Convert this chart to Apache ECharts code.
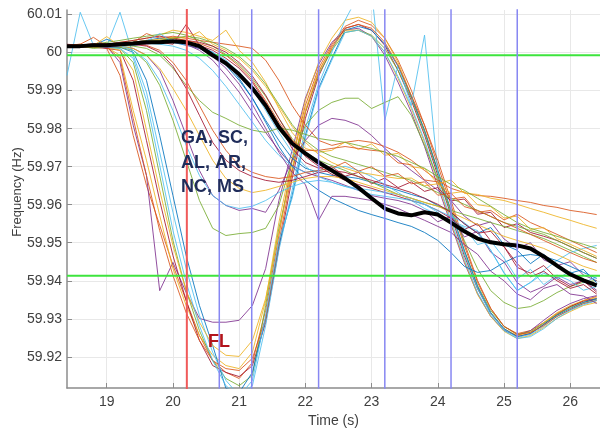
<!DOCTYPE html>
<html><head><meta charset="utf-8">
<script src="https://cdn.jsdelivr.net/npm/echarts@6/dist/echarts.min.js"></script>
<style>html,body{margin:0;padding:0;background:#fff}#c{width:600px;height:434px}</style>
</head><body><div id="c"></div>
<script>
// sample times (s)
const timeS = [18.4,18.6,18.8,19.0,19.2,19.4,19.6,19.8,20.0,20.2,20.4,20.6,20.8,21.0,21.2,21.4,21.6,21.8,22.0,22.2,22.4,22.6,22.8,23.0,23.2,23.4,23.6,23.8,24.0,24.2,24.4,24.6,24.8,25.0,25.2,25.4,25.6,25.8,26.0,26.2,26.4];

// frequency deviation from 60 Hz, in mHz, one value per sample time
// FL group (deep early dip, then swing)
const fl1 = [1.4,1.7,1.9,1.1,-6.0,-21.8,-34.9,-45.4,-55.9,-65.2,-74.4,-81.0,-84.1,-85.7,-81.5,-67.8,-48.1,-28.3,-13.9,-4.1,2.2,6.9,8.5,7.2,3.8,-2.0,-9.9,-19.1,-29.6,-40.1,-50.7,-60.4,-67.3,-72.0,-73.9,-73.1,-71.0,-68.6,-66.8,-65.2,-64.1];
const fl2 = [1.7,1.4,2.2,1.7,-2.6,-19.1,-32.3,-62.6,-55.2,-63.1,-69.9,-70.9,-70.9,-70.4,-66.5,-56.8,-38.9,-25.7,-12.0,-3.1,2.7,5.9,6.4,4.3,-0.7,-7.8,-15.7,-24.7,-35.2,-45.2,-55.2,-63.4,-69.4,-73.1,-74.4,-73.1,-70.4,-67.8,-66.0,-64.7,-63.9];
const fl3 = [1.4,1.7,1.7,1.4,-0.7,-15.2,-28.3,-42.8,-56.8,-66.5,-74.4,-79.6,-82.3,-83.1,-78.8,-65.2,-44.7,-27.8,-12.6,-2.6,3.8,8.5,9.3,8.0,3.8,-2.6,-11.3,-20.4,-31.0,-42.0,-52.6,-62.0,-68.4,-72.6,-74.4,-73.6,-71.0,-68.4,-66.5,-65.2,-64.4];
const fl4 = [1.7,1.4,1.4,1.1,0.6,-7.3,-23.1,-38.9,-53.4,-65.2,-75.7,-82.3,-84.1,-85.2,-82.3,-71.0,-51.5,-33.1,-17.3,-6.2,1.1,6.4,7.4,5.9,1.9,-4.7,-12.6,-21.7,-32.3,-42.8,-53.4,-62.0,-68.6,-72.8,-74.7,-73.9,-71.5,-68.9,-66.8,-65.4,-64.7];
const fl5 = [1.4,1.7,1.1,1.4,1.1,-2.6,-15.2,-32.3,-49.4,-62.6,-73.1,-81.0,-85.7,-87.6,-84.9,-66.5,-46.2,-31.0,-15.7,-5.7,0.6,5.3,5.9,4.6,1.1,-4.7,-12.0,-21.0,-31.5,-42.0,-52.0,-61.2,-67.8,-72.0,-74.1,-73.4,-71.2,-68.9,-67.0,-65.7,-64.9];
const fl6 = [1.7,1.4,1.7,1.4,1.4,0.1,-7.3,-21.8,-37.6,-53.4,-66.5,-77.0,-88.3,-89.4,-84.1,-69.9,-50.7,-37.6,-21.8,-9.4,-1.5,5.9,6.9,5.9,2.2,-3.6,-11.6,-20.4,-31.0,-41.5,-52.0,-61.5,-68.4,-72.6,-74.7,-73.9,-71.5,-69.1,-67.3,-65.7,-64.7];
const fl7 = [-6.0,10.6,1.9,1.7,10.6,-0.7,-10.4,-26.2,-42.0,-56.8,-69.1,-78.8,-86.2,-90.2,-87.6,-71.8,-52.0,-36.2,-19.9,-8.3,0.1,8.5,15.1,16.4,-17.8,-3.3,-13.9,4.6,-31.5,-42.0,-52.6,-62.0,-68.6,-72.8,-74.9,-74.1,-72.0,-69.4,-67.6,-66.0,-65.2];
const fl8 = [1.4,1.4,1.7,1.4,-1.5,-17.3,-32.3,-46.8,-58.6,-68.4,-75.7,-81.0,-83.1,-83.6,-80.4,-69.9,-49.9,-31.5,-15.7,-5.2,1.7,6.4,7.4,6.4,2.7,-3.3,-11.3,-19.1,-28.3,-38.9,-49.9,-59.9,-67.3,-72.0,-74.1,-73.6,-71.8,-69.4,-67.6,-66.0,-65.2];
const fl9 = [1.7,1.4,1.4,1.4,0.6,-4.7,-20.4,-36.2,-50.7,-62.6,-70.9,-77.0,-79.6,-79.9,-75.7,-64.7,-47.3,-30.4,-15.2,-4.7,1.1,5.9,5.9,4.3,0.1,-6.8,-14.7,-23.6,-34.1,-44.7,-54.7,-63.6,-69.4,-73.3,-75.2,-74.4,-72.3,-69.9,-68.1,-66.5,-65.7];
const fl10 = [1.4,1.7,1.7,1.4,1.1,-1.5,-12.6,-29.6,-46.8,-60.4,-71.8,-81.0,-87.6,-90.4,-86.2,-69.1,-49.4,-38.3,-22.6,-9.9,-2.0,5.3,5.9,4.3,0.1,-6.3,-14.2,-23.1,-33.6,-44.1,-54.2,-63.1,-69.1,-73.1,-75.2,-74.7,-72.6,-69.9,-67.8,-66.3,-65.2];
// intermediate dips
const mid1 = [1.4,1.7,1.4,1.7,1.4,0.6,-2.6,-8.6,-17.8,-28.3,-38.9,-46.2,-48.1,-47.6,-47.3,-46.2,-40.2,-28.3,-19.1,-15.2,-13.1,-12.0,-12.0,-14.7,-13.1,-11.6,-16.5,-24.4,-33.1,-41.5,-49.4,-56.8,-62.6,-65.7,-67.3,-66.8,-65.2,-63.1,-61.5,-60.4,-59.9];
const mid2 = [1.7,1.4,1.7,1.4,1.7,1.1,-0.7,-4.7,-12.6,-21.8,-31.0,-37.6,-40.2,-41.5,-41.0,-42.0,-36.2,-28.3,-23.1,-19.1,-17.3,-17.8,-19.1,-21.8,-25.2,-28.3,-31.0,-33.6,-36.2,-38.9,-43.0,-45.5,-44.5,-49.0,-51.5,-50.0,-54.5,-56.0,-55.0,-58.5,-60.0];
// GA / SC / AL / AR / NC / MS group (slow decline)
const ga1 = [1.9,2.2,1.7,2.4,2.2,2.7,5.0,3.8,4.3,3.8,3.2,2.7,2.2,1.7,1.1,-2.0,-7.3,-13.9,-19.1,-23.1,-24.4,-23.6,-23.1,-23.6,-24.7,-26.2,-28.3,-31.0,-33.6,-35.7,-36.8,-37.6,-37.8,-38.3,-38.9,-39.4,-40.2,-40.7,-41.5,-42.0,-42.6];
const ga2 = [1.7,1.9,2.2,1.9,2.7,3.2,3.8,4.6,5.9,5.3,4.3,3.2,5.9,0.6,-2.6,-7.8,-14.7,-21.0,-25.2,-26.2,-25.7,-23.5,-25.5,-24.0,-27.0,-26.5,-30.0,-30.5,-34.5,-33.5,-37.0,-37.3,-38.3,-38.9,-39.9,-41.0,-42.0,-43.1,-44.1,-45.2,-46.2];
const ga3 = [1.4,1.7,1.9,3.5,2.2,2.4,2.7,3.2,2.7,1.9,1.1,-0.7,-3.3,-7.3,-12.0,-17.8,-23.1,-27.8,-30.4,-31.5,-32.3,-32.6,-33.1,-34.1,-35.2,-36.2,-37.3,-38.3,-40.2,-42.0,-45.0,-47.5,-46.0,-50.5,-52.0,-55.5,-53.0,-56.5,-58.0,-57.0,-60.5];
const ga4 = [1.7,1.9,2.2,2.4,2.2,2.7,3.2,2.7,2.2,7.4,1.9,0.6,-1.5,-4.1,-7.8,-13.1,-19.1,-25.2,-28.9,-30.4,-30.0,-32.5,-31.5,-34.5,-33.0,-35.5,-34.0,-36.5,-35.5,-39.0,-38.5,-42.5,-42.0,-46.0,-45.0,-47.3,-48.3,-49.4,-51.0,-52.6,-54.1];
const ga5 = [1.4,1.7,1.9,2.2,2.4,1.9,2.2,2.7,3.2,2.2,0.6,-2.0,-6.0,-10.4,-15.7,-21.0,-25.7,-29.7,-31.5,-32.6,-33.6,-34.9,-36.2,-37.6,-38.3,-38.9,-39.9,-41.5,-44.5,-43.0,-48.5,-47.0,-52.5,-55.0,-60.5,-63.0,-61.5,-59.0,-61.0,-60.0,-62.5];
const ga6 = [1.9,1.7,2.2,2.7,3.2,3.8,4.3,4.8,5.3,4.6,3.2,1.7,-0.5,-3.1,-6.8,-11.5,-17.3,-22.6,-26.2,-28.3,-29.7,-31.0,-32.6,-34.1,-35.7,-37.3,-38.3,-39.4,-40.4,-41.5,-42.6,-43.6,-44.7,-45.7,-46.8,-47.8,-48.9,-50.4,-52.0,-53.6,-55.2];
const ga7 = [1.7,1.4,1.9,2.2,1.7,1.9,2.4,2.2,1.7,0.6,-1.5,-4.7,-8.9,-13.6,-18.3,-23.1,-27.0,-29.9,-31.5,-31.0,-30.4,-29.9,-31.0,-32.6,-34.7,-36.8,-38.9,-41.0,-42.6,-44.1,-45.7,-46.8,-52.0,-57.8,-62.6,-60.4,-57.3,-54.7,-52.6,-51.5,-50.7];
const ga8 = [2.2,1.9,2.4,2.2,2.7,3.2,3.8,4.3,3.8,3.2,2.7,1.7,0.1,-2.6,-6.2,-11.2,-17.3,-23.1,-27.3,-29.9,-32.0,-33.6,-34.7,-35.7,-36.8,-37.8,-38.9,-39.9,-41.5,-43.6,-46.5,-45.0,-49.5,-51.0,-56.5,-58.0,-56.0,-59.5,-61.5,-60.0,-63.0];
const ga9 = [1.9,2.2,4.0,1.7,2.2,2.4,3.0,3.2,3.8,3.2,2.4,1.1,-0.7,-3.6,-7.3,-12.6,-18.3,-23.1,-25.7,-25.7,-25.2,-24.7,-25.2,-25.7,-26.0,-29.0,-29.5,-33.5,-34.0,-38.5,-38.0,-42.0,-41.5,-44.0,-42.5,-44.7,-46.2,-47.8,-49.4,-51.0,-52.6];
const ga10 = [1.7,1.9,1.7,1.9,2.2,2.7,3.2,3.8,3.2,2.7,1.7,0.1,-2.6,-6.8,-12.0,-18.3,-24.7,-29.9,-33.6,-36.2,-38.3,-39.9,-41.5,-42.6,-43.6,-44.7,-45.7,-47.3,-49.4,-52.6,-56.2,-57.8,-57.3,-55.2,-53.6,-53.1,-53.6,-54.7,-56.2,-57.8,-59.4];
const ga11 = [1.4,1.7,1.9,2.2,2.4,2.7,3.2,3.5,4.0,3.8,5.5,2.2,0.6,-1.5,-4.7,-8.9,-14.1,-19.4,-23.6,-26.8,-28.9,-30.4,-31.5,-32.0,-32.6,-33.1,-33.0,-35.0,-34.5,-37.0,-36.5,-40.0,-40.5,-43.5,-43.0,-46.5,-46.0,-48.9,-50.4,-52.0,-53.6];
const ga12 = [1.7,1.7,2.2,1.9,2.2,2.4,2.7,3.0,2.7,2.2,1.1,-1.0,-4.1,-8.3,-13.6,-19.9,-26.2,-31.5,-34.7,-44.1,-37.8,-37.8,-38.3,-38.9,-39.9,-41.0,-42.6,-44.1,-45.7,-47.3,-50.5,-53.0,-57.5,-60.0,-63.5,-65.0,-62.0,-61.0,-63.5,-64.0,-66.0];
const ga13 = [1.4,1.9,2.2,1.9,2.4,2.7,3.0,3.2,3.8,4.3,3.8,2.7,1.1,-1.0,-4.1,-8.3,-13.6,-18.9,-23.1,-25.7,-27.3,-28.3,-29.4,-30.4,-31.5,-32.6,-33.6,-35.2,-36.8,-38.3,-39.9,-41.5,-43.1,-44.7,-45.7,-46.8,-47.8,-49.4,-51.0,-52.6,-54.1];
const ga14 = [1.7,1.9,2.2,1.7,1.9,2.4,3.0,5.0,2.7,2.2,1.4,0.1,-2.0,-5.2,-9.4,-15.2,-21.0,-26.2,-29.9,-32.6,-34.1,-35.2,-35.7,-36.2,-36.8,-37.3,-38.3,-39.9,-42.0,-44.7,-46.0,-50.5,-49.5,-54.0,-59.5,-57.0,-61.0,-58.5,-60.0,-62.5,-61.5];
// early moderate decline, then plateau
const ea1 = [1.7,1.9,2.2,1.9,2.2,2.4,1.9,0.6,-2.6,-7.3,-13.9,-20.4,-25.7,-29.7,-31.5,-32.6,-33.1,-32.6,-31.5,-31.0,-30.4,-28.8,-31.2,-30.0,-32.5,-31.8,-34.5,-34.0,-37.5,-37.0,-40.5,-41.5,-43.1,-44.7,-46.2,-47.8,-49.4,-51.0,-52.6,-54.1,-55.2];
const ea2 = [1.4,1.7,1.9,4.2,1.7,1.1,-0.7,-4.1,-9.4,-15.2,-21.8,-28.3,-33.1,-35.7,-36.8,-36.2,-35.2,-34.1,-33.1,-32.6,-32.6,-33.1,-34.1,-35.2,-36.2,-37.3,-38.3,-39.4,-40.4,-42.0,-43.6,-45.2,-46.8,-48.3,-49.4,-50.4,-51.5,-53.1,-54.7,-56.2,-57.3];
const ea3 = [1.7,1.9,1.7,2.2,1.9,1.7,1.1,-0.7,-4.1,-8.6,-12.6,-15.7,-17.3,-19.1,-20.4,-21.0,-19.9,-20.4,-21.5,-22.6,-23.1,-23.6,-24.4,-25.2,-26.2,-27.3,-28.9,-30.4,-32.6,-34.7,-36.2,-38.3,-40.4,-42.6,-44.7,-46.2,-47.3,-48.3,-49.4,-50.4,-51.5];
const ea4 = [1.4,1.7,1.9,1.7,1.9,0.6,-2.0,-7.3,-15.2,-24.4,-32.3,-37.6,-40.2,-41.0,-40.4,-38.9,-36.8,-35.2,-34.1,-33.6,-34.1,-35.2,-36.2,-37.3,-37.8,-38.3,-38.9,-39.9,-41.5,-43.1,-44.7,-47.5,-52.0,-58.0,-62.5,-60.5,-58.0,-59.5,-57.5,-60.5,-59.0];
const ea5 = [1.7,1.4,1.9,2.2,2.4,2.2,1.7,0.1,-3.6,-9.4,-16.5,-23.6,-28.3,-31.0,-32.6,-33.6,-34.1,-33.6,-32.6,-31.5,-31.0,-31.5,-32.6,-33.6,-34.7,-35.7,-36.8,-38.3,-39.9,-42.0,-45.0,-47.5,-47.0,-51.0,-55.5,-59.0,-57.5,-60.0,-62.0,-61.0,-63.5];
// thick black reference trace
const meanDev = [1.7,1.7,1.9,1.9,2.2,2.4,2.7,2.7,3.0,2.7,1.7,-0.7,-2.8,-5.7,-9.4,-13.9,-19.6,-23.9,-26.5,-28.9,-31.0,-33.1,-35.5,-38.3,-41.0,-42.3,-42.8,-42.0,-42.6,-44.7,-47.0,-48.9,-49.9,-50.4,-50.7,-51.5,-53.6,-56.0,-58.3,-59.9,-61.2];

// event markers
const redMarkerTime = [20.21];
const blueMarkerTimes = [20.7, 21.19, 22.2, 23.2, 24.2, 25.2];
const greenLevelsHz = [59.9993, 59.9413];

const C = {blue:'#0072BD', orange:'#D95319', yellow:'#EDB120', purple:'#7E2F8E', green:'#77AC30', cyan:'#4DBEEE', maroon:'#A2142F'};
const traces = [
  [fl1,C.orange],[fl2,C.purple],[fl3,C.yellow],[fl4,C.maroon],[fl5,C.green],[fl6,C.blue],[fl7,C.cyan],[fl8,C.orange],[fl9,C.yellow],[fl10,C.cyan],
  [mid1,C.green],[mid2,C.purple],
  [ga1,C.orange],[ga2,C.yellow],[ga3,C.blue],[ga4,C.maroon],[ga5,C.purple],[ga6,C.green],[ga7,C.cyan],[ga8,C.maroon],[ga9,C.orange],[ga10,C.blue],[ga11,C.yellow],[ga12,C.purple],[ga13,C.green],[ga14,C.cyan],
  [ea1,C.orange],[ea2,C.yellow],[ea3,C.green],[ea4,C.cyan],[ea5,C.maroon]
];
const toHz = arr => timeS.map((t,i) => [t, 60 + arr[i]/1000]);

const X_MIN = 18.4, X_MAX = 26.45, Y_MIN = 59.9118, Y_MAX = 60.0112;
const FONT = '"Liberation Sans", Arial, Helvetica, sans-serif';

const series = traces.map(([arr,col]) => ({
  type:'line', data: toHz(arr), showSymbol:false, symbol:'none', silent:true,
  lineStyle:{color:col, width:1, opacity:0.85}, z:2
}));
greenLevelsHz.forEach(v => series.push({type:'line', data:[[X_MIN,v],[X_MAX,v]], symbol:'none', silent:true, lineStyle:{color:'#3de43d', width:2}, z:3}));
series.push({type:'line', data: toHz(meanDev), symbol:'none', silent:true, lineStyle:{color:'#000', width:4}, z:4});
blueMarkerTimes.forEach(t => series.push({type:'line', data:[[t,Y_MIN-0.01],[t,Y_MAX+0.01]], symbol:'none', silent:true, lineStyle:{color:'#8787f2', width:1.5}, z:5}));
redMarkerTime.forEach(t => series.push({type:'line', data:[[t,Y_MIN-0.01],[t,Y_MAX+0.01]], symbol:'none', silent:true, lineStyle:{color:'#f05a5a', width:2}, z:5}));

const chart = echarts.init(document.getElementById('c'), null, {renderer:'canvas'});
chart.setOption({
  animation:false,
  backgroundColor:'#fff',
  grid:{left:67, right:0, top:10, bottom:46, containLabel:false},
  xAxis:{type:'value', min:X_MIN, max:X_MAX, splitNumber:8, minInterval:1, maxInterval:1,
    axisLine:{onZero:false, lineStyle:{color:'#8c8c8c', width:1.5}},
    axisTick:{inside:true, length:5, lineStyle:{color:'#8c8c8c'}},
    axisLabel:{showMinLabel:false, showMaxLabel:false, color:'#404040', fontSize:14, fontFamily:FONT, margin:7},
    splitLine:{show:true, showMinLine:false, showMaxLine:false, lineStyle:{color:'#e8e8e8', width:1}},
    name:'Time (s)', nameLocation:'middle', nameGap:25, nameTextStyle:{color:'#404040', fontSize:14, fontFamily:FONT}
  },
  yAxis:{type:'value', min:Y_MIN, max:Y_MAX, splitNumber:10, minInterval:0.01, maxInterval:0.01,
    axisLine:{show:true, lineStyle:{color:'#8c8c8c', width:1.5}},
    axisTick:{show:true, inside:true, length:5, lineStyle:{color:'#8c8c8c'}},
    axisLabel:{showMinLabel:false, showMaxLabel:false, color:'#404040', fontSize:14, fontFamily:FONT, margin:5,
      formatter: v => String(parseFloat(v.toFixed(2)))},
    splitLine:{show:true, showMinLine:false, showMaxLine:false, lineStyle:{color:'#e8e8e8', width:1}}
  },
  graphic:[
    {type:'text', x:17, y:192, rotation:Math.PI/2, z:100,
      style:{text:'Frequency (Hz)', font:'13px '+FONT, fill:'#404040', align:'center', verticalAlign:'middle'}},
    {type:'text', x:181, y:163, z:100,
      style:{text:'GA, SC,\nAL, AR,\nNC, MS', font:'bold 18px '+FONT, fill:'#1f2c5a', lineHeight:24.5, align:'left', verticalAlign:'middle'}},
    {type:'text', x:208, y:342, z:100,
      style:{text:'FL', font:'bold 18px '+FONT, fill:'#b3141c', align:'left', verticalAlign:'middle'}}
  ],
  series: series
});
</script>
</body></html>
